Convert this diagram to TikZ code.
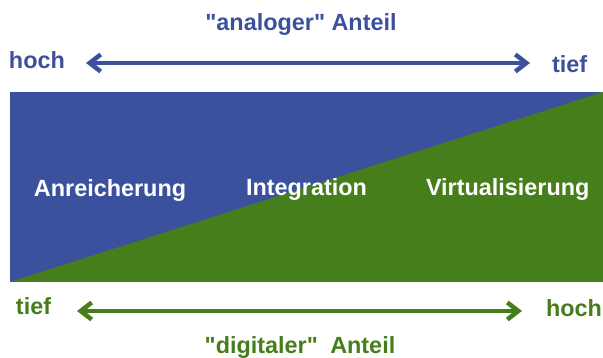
\documentclass[tikz,border=0pt]{standalone}
\usepackage{fontspec}
\newfontfamily\labfont{Liberation Sans}
\usetikzlibrary{arrows.meta}
\definecolor{dblue}{HTML}{3C519E}
\definecolor{dgreen}{HTML}{467E1B}
\begin{document}
\begin{tikzpicture}[x=1pt,y=-1pt,
  lbl/.style={font=\labfont\fontsize{23.4}{28}\selectfont\bfseries, inner sep=0pt, outer sep=0pt},
  arr/.style={line width=4.5pt, {Straight Barb[length=11pt,width=17pt]}-{Straight Barb[length=11pt,width=17pt]}}]
\useasboundingbox (0,0) rectangle (603,358);
\fill[dblue] (10,92) rectangle (603,282);
\fill[dgreen] (10,282) -- (603,92) -- (603,282) -- cycle;
% inner labels
\node[lbl, text=white, anchor=base west] (anr) at (34,197) {Anreicherung};
\node[lbl, text=white, anchor=base west] (int) at (246,196) {Integration};
\node[lbl, text=white, anchor=base west] (vir) at (426,196) {Virtualisierung};
% top
\node[lbl, text=dblue, anchor=base] (ana) at (301,31) {"analoger" Anteil};
\node[lbl, text=dblue, anchor=base west] (hochT) at (9,69) {hoch};
\node[lbl, text=dblue, anchor=base west] (tiefT) at (552,73) {tief};
\coordinate (ta) at (86,63);
\coordinate (tb) at (530,63);
\draw[arr, dblue] (ta) -- (tb);
% bottom
\node[lbl, text=dgreen, anchor=base] (dig) at (300,353) {"digitaler"\hspace{0.25em} Anteil};
\node[lbl, text=dgreen, anchor=base west] (tiefB) at (16,315) {tief};
\node[lbl, text=dgreen, anchor=base west] (hochB) at (546,317) {hoch};
\coordinate (ba) at (77,311);
\coordinate (bb) at (522,311);
\draw[arr, dgreen] (ba) -- (bb);
\end{tikzpicture}
\end{document}
